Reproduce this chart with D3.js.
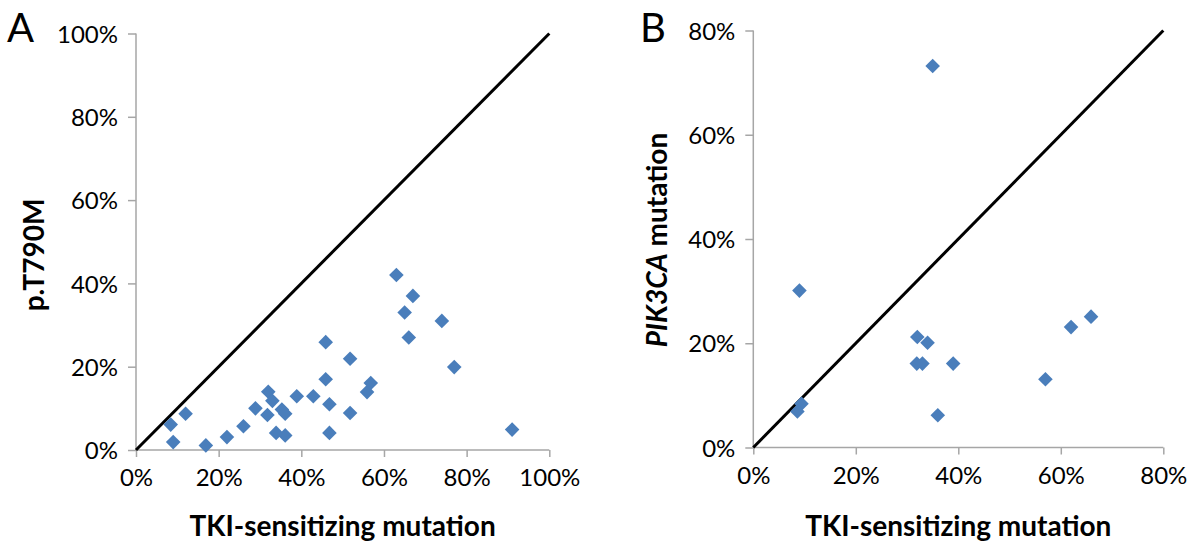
<!DOCTYPE html>
<html>
<head>
<meta charset="utf-8">
<script src="https://cdn.jsdelivr.net/npm/d3@7"></script>
<style>
  html, body { margin: 0; padding: 0; background: #fff; }
  svg { display: block; }
  .tick text { font-family: Lato, "Open Sans", sans-serif; font-size: 24px; fill: #000; }
  .title { font-family: Lato, "Open Sans", sans-serif; font-weight: bold; font-size: 28px; fill: #000; }
  .panel { font-family: Lato, "Open Sans", sans-serif; font-size: 40px; fill: #000; }
</style>
</head>
<body>
<svg id="chart" width="1194" height="541"></svg>
<script>
// ---- Data (fractions) ----
// Panel A: TKI-sensitizing mutation (x) vs p.T790M (y)
const aTKI = [0.084, 0.09, 0.12, 0.169, 0.22, 0.26, 0.289, 0.318, 0.32, 0.33, 0.339, 0.353, 0.361, 0.361,
              0.389, 0.429, 0.459, 0.459, 0.468, 0.468, 0.518, 0.518, 0.559, 0.568, 0.63, 0.67, 0.65,
              0.74, 0.66, 0.77, 0.91];
const aT790M = [0.061, 0.019, 0.087, 0.011, 0.031, 0.057, 0.10, 0.084, 0.14, 0.118, 0.041, 0.097, 0.087, 0.035,
                0.129, 0.129, 0.259, 0.17, 0.11, 0.041, 0.219, 0.089, 0.139, 0.161, 0.42, 0.37, 0.33,
                0.31, 0.27, 0.199, 0.049];
// Panel B: TKI-sensitizing mutation (x) vs PIK3CA mutation (y)
const bTKI = [0.09, 0.094, 0.086, 0.32, 0.34, 0.319, 0.33, 0.39, 0.36, 0.57, 0.62, 0.659, 0.35];
const bPIK3CA = [0.301, 0.084, 0.069, 0.212, 0.201, 0.161, 0.161, 0.161, 0.062, 0.131, 0.231, 0.251, 0.732];
const aTicks = [0, 0.2, 0.4, 0.6, 0.8, 1.0];
const bTicks = [0, 0.2, 0.4, 0.6, 0.8];

const svg = d3.select("#chart");
const fmt = d => Math.round(d * 100) + "%";
const diamond = "M0,-7.3L7.3,0L0,7.3L-7.3,0Z";

function panel(cfg) {
  const x = d3.scaleLinear().domain([0, cfg.max]).range(cfg.xr);
  const y = d3.scaleLinear().domain([0, cfg.max]).range(cfg.yr);
  const g = svg.append("g");

  const xa = g.append("g").attr("transform", `translate(0,${cfg.yr[0]})`)
    .call(d3.axisBottom(x).tickValues(cfg.ticks).tickFormat(fmt).tickSize(7).tickPadding(12));
  const ya = g.append("g").attr("transform", `translate(${cfg.xr[0]},0)`)
    .call(d3.axisLeft(y).tickValues(cfg.ticks).tickFormat(fmt).tickSize(8).tickPadding(10));
  [xa, ya].forEach(a => {
    a.select(".domain").attr("stroke", "#a6a6a6").attr("stroke-width", 1.5);
    a.selectAll(".tick line").attr("stroke", "#a6a6a6").attr("stroke-width", 1.5);
  });
  xa.select(".domain").attr("d", `M${cfg.xr[0]},0H${cfg.xr[1]}`);
  ya.select(".domain").attr("d", `M0,${cfg.yr[0]}V${cfg.yr[1]}`);
  ya.selectAll(".tick text").attr("dy", "0.36em");

  // identity line
  g.append("line")
    .attr("x1", x(0)).attr("y1", y(0))
    .attr("x2", x(cfg.max)).attr("y2", y(cfg.max))
    .attr("stroke", "#000").attr("stroke-width", 3);

  // points
  g.selectAll("path.pt").data(cfg.xs.map((v, i) => [v, cfg.ys[i]]))
    .enter().append("path").attr("class", "pt")
    .attr("d", diamond)
    .attr("transform", d => `translate(${x(d[0])},${y(d[1])})`)
    .attr("fill", "#4a7ebb");

  // x title
  g.append("text").attr("class", "title")
    .attr("x", (cfg.xr[0] + cfg.xr[1]) / 2).attr("y", 536)
    .attr("text-anchor", "middle").text("TKI-sensitizing mutation");

  // panel letter
  g.append("text").attr("class", "panel")
    .attr("x", cfg.letterX).attr("y", 42).text(cfg.letter);
  return g;
}

const gA = panel({xr: [136, 549.3], yr: [450, 33.5], max: 1.0, ticks: aTicks,
  xs: aTKI, ys: aT790M, letter: "A", letterX: 7});
gA.append("text").attr("class", "title")
  .attr("transform", "translate(44,255) rotate(-90)")
  .attr("text-anchor", "middle").text("p.T790M");

const gB = panel({xr: [753.3, 1163.3], yr: [447.5, 30.5], max: 0.8, ticks: bTicks,
  xs: bTKI, ys: bPIK3CA, letter: "B", letterX: 640});
const tB = gB.append("text").attr("class", "title")
  .attr("transform", "translate(667,240) rotate(-90)")
  .attr("text-anchor", "middle");
tB.append("tspan").attr("font-style", "italic").text("PIK3CA");
tB.append("tspan").text(" mutation");
</script>
</body>
</html>
